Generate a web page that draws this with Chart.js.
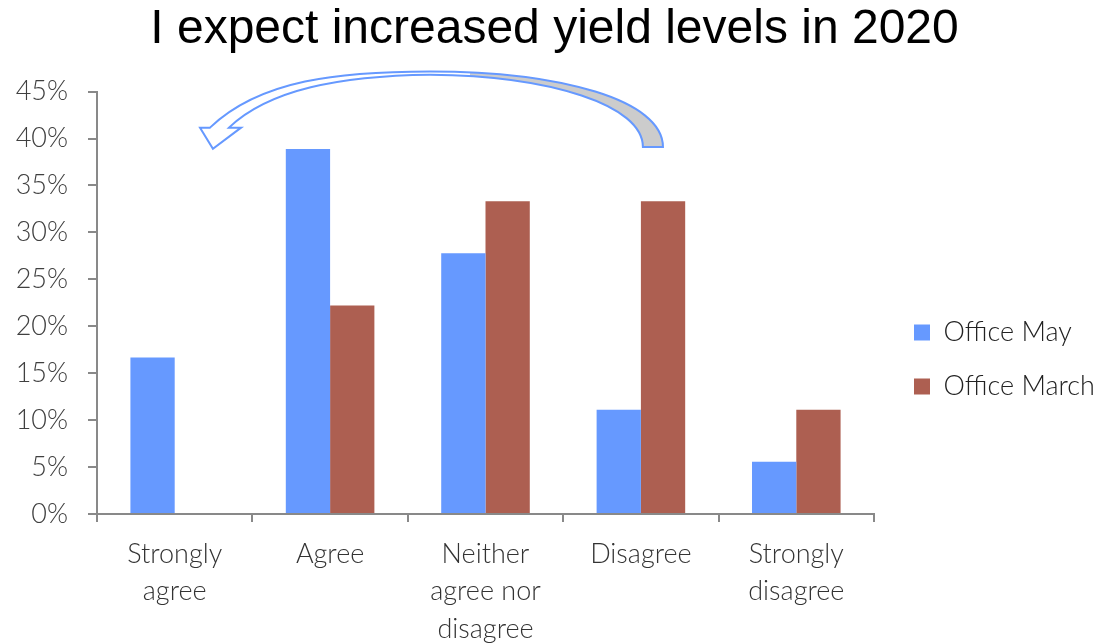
<!DOCTYPE html>
<html>
<head>
<meta charset="utf-8">
<script src="https://cdn.jsdelivr.net/npm/chart.js@4"></script>
<style>
  html,body{margin:0;padding:0;background:#fff;}
  #wrap{width:1109px;height:643px;position:relative;}
</style>
</head>
<body>
<div id="wrap"><canvas id="chart"></canvas></div>
<script>
// data
const categorias = [["Strongly","agree"],["Agree"],["Neither","agree nor","disagree"],["Disagree"],["Strongly","disagree"]];
const officeMay   = [0.1667, 0.3889, 0.2778, 0.1111, 0.0556];
const officeMarch = [0,      0.2222, 0.3333, 0.3333, 0.1111];
const yTicks = [0,0.05,0.10,0.15,0.20,0.25,0.30,0.35,0.40,0.45];

const AZUL = "#6699ff";
const ROJO = "#ad5f51";
const GRIS = "#898989";
const fuente = "Lato";

// curved arrow (annotation) in data coords: [category index, value]
const flecha = {
  tailOut:[3.142,0.391], tailIn:[3.013,0.391],
  top:[1.643,0.4715], topIn:[1.643,0.468],
  notchOut:[0.227,0.4116], notchIn:[0.349,0.4116],
  headL:[0.163,0.4116], headR:[0.427,0.4116], tip:[0.246,0.389]
};

const flechaPlugin = {
  id:'flecha',
  afterDraw(chart){
    const x = chart.scales.x, y = chart.scales.y, ctx = chart.ctx;
    const P = k => [x.getPixelForValue(flecha[k][0]), y.getPixelForValue(flecha[k][1])];
    const [tox,toy]=P('tailOut'),[tix,tiy]=P('tailIn'),[tpx,tpy]=P('top'),[tqx,tqy]=P('topIn');
    const [nox,noy]=P('notchOut'),[nix,niy]=P('notchIn'),[hlx,hly]=P('headL'),[hrx,hry]=P('headR'),[tx,ty]=P('tip');
    ctx.save();
    const path = new Path2D();
    path.moveTo(nox,noy);
    path.bezierCurveTo(nox+50,noy-48, tpx-90,tpy, tpx,tpy);
    path.bezierCurveTo(tpx+130,tpy, tox,toy-47, tox,toy);
    path.lineTo(tix,tiy);
    path.bezierCurveTo(tix,tiy-42, tqx+120,tqy+1, tqx,tqy);
    path.bezierCurveTo(tqx-90,tqy+1, nix+40,niy-38, nix,niy);
    path.lineTo(hrx,hry);
    path.lineTo(tx,ty);
    path.lineTo(hlx,hly);
    path.closePath();
    ctx.fillStyle="#fff";
    ctx.fill(path);
    ctx.save();
    ctx.beginPath();
    ctx.rect(tpx+40,0,chart.width,chart.height);
    ctx.clip();
    ctx.fillStyle="#cccccc";
    ctx.fill(path);
    ctx.restore();
    ctx.strokeStyle=AZUL;
    ctx.lineWidth=2;
    ctx.lineJoin="miter";
    ctx.stroke(path);
    ctx.restore();
  }
};

// legend: fixed width, moved to where the reference has it
const legendaPlugin = {
  id:'legendaPos',
  beforeLayout(chart){
    const lg = chart.legend;
    if(lg && !lg._parcheado){
      const fit = lg.fit;
      lg.fit = function(){ fit.call(this); this.width = 235; };
      lg._parcheado = true;
    }
  },
  afterLayout(chart){
    const lg = chart.legend;
    if(!lg) return;
    lg.left += 13; lg.right += 13;
    lg.top += 38; lg.bottom += 38;
  }
};

new Chart(document.getElementById('chart'),{
  type:'bar',
  data:{
    labels:categorias,
    datasets:[
      {label:'Office May',data:officeMay,backgroundColor:AZUL,borderWidth:0},
      {label:'Office March',data:officeMarch,backgroundColor:ROJO,borderWidth:0}
    ]
  },
  options:{
    responsive:true,
    maintainAspectRatio:false,
    devicePixelRatio:1,
    animation:false,
    layout:{padding:{left:0,right:0,top:0,bottom:0}},
    datasets:{bar:{categoryPercentage:0.57,barPercentage:1}},
    plugins:{
      title:{
        display:true,
        text:'I expect increased yield levels in 2020',
        color:'#000',
        font:{family:'Liberation Sans',size:48,weight:'normal',lineHeight:1.2},
        padding:{top:1,bottom:33}
      },
      legend:{
        display:true,
        position:'right',
        align:'center',
        labels:{
          boxWidth:16,boxHeight:16,padding:27,color:'#222',
          font:{family:fuente,size:27,weight:'300'}
        }
      },
      tooltip:{enabled:false}
    },
    scales:{
      x:{
        grid:{drawOnChartArea:false,drawTicks:true,tickLength:8,color:GRIS,lineWidth:2,offset:true},
        border:{display:true,color:GRIS,width:2},
        ticks:{color:'#333',padding:13,maxRotation:0,font:{family:fuente,size:27,weight:'300',lineHeight:1.4}},
        afterFit(s){ s.height = 129; }
      },
      y:{
        min:0,max:0.45,
        afterBuildTicks(s){ s.ticks = yTicks.map(v=>({value:v})); },
        grid:{drawOnChartArea:false,drawTicks:true,tickLength:9,color:GRIS,lineWidth:2},
        border:{display:true,color:GRIS,width:2},
        ticks:{color:'#404040',padding:20,font:{family:fuente,size:27,weight:'300'},
          callback:v=>Math.round(v*100)+'%'},
        afterFit(s){ s.width = 97; }
      }
    }
  },
  plugins:[flechaPlugin,legendaPlugin]
});
</script>
</body>
</html>
